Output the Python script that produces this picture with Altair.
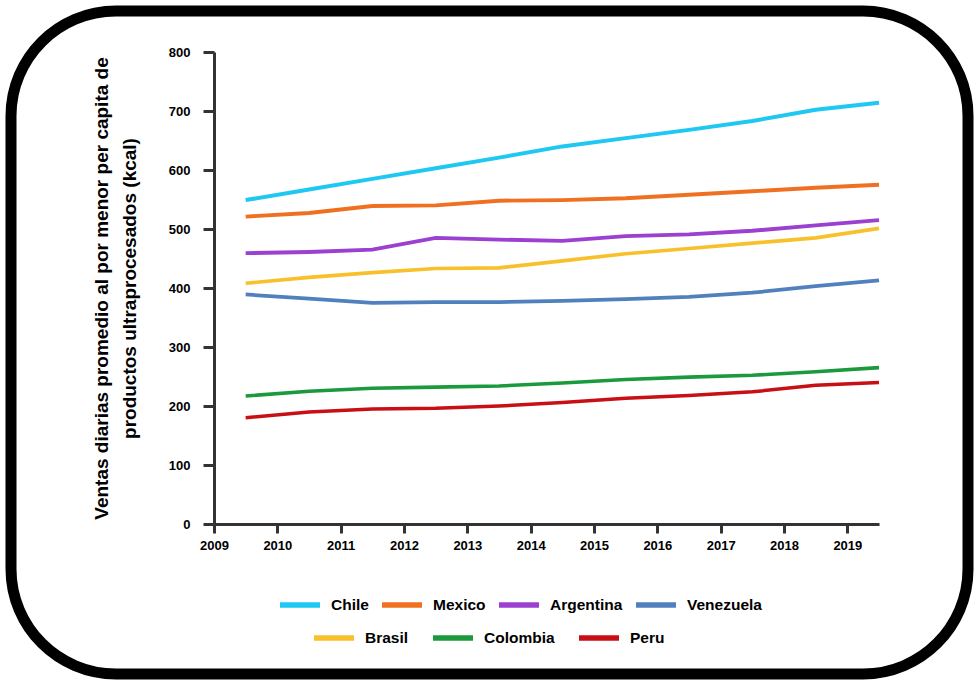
import altair as alt
import pandas as pd

years = list(range(2009, 2020))
chile = [549, 567, 585, 603, 621, 640, 654, 668, 683, 702, 714]
mexico = [521, 527, 539, 540, 548, 549, 552, 558, 564, 570, 575]
argentina = [459, 461, 465, 485, 482, 480, 488, 491, 497, 506, 515]
venezuela = [389, 382, 375, 376, 376, 378, 381, 385, 392, 403, 413]
brasil = [408, 418, 426, 433, 434, 446, 458, 467, 476, 485, 501]
colombia = [217, 225, 230, 232, 234, 239, 245, 249, 252, 258, 265]
peru = [180, 190, 195, 196, 200, 206, 213, 218, 224, 235, 240]

row1 = ["Chile", "Mexico", "Argentina", "Venezuela"]
colors1 = ["#1ec8f2", "#f07021", "#9b40d0", "#5080bd"]
row2 = ["Brasil", "Colombia", "Peru"]
colors2 = ["#f8c12c", "#1a9a3c", "#c80f14"]

series = {
    "Chile": chile, "Mexico": mexico, "Argentina": argentina,
    "Venezuela": venezuela, "Brasil": brasil, "Colombia": colombia, "Peru": peru,
}
rows = []
for name, vals in series.items():
    for y, v in zip(years, vals):
        rows.append({"country": name, "year": y, "value": v})
df = pd.DataFrame(rows)

FONT = "Liberation Sans"
W, H = 665, 472
PL, PT = 214, 52

x_enc = alt.X(
    "xpos:Q",
    scale=alt.Scale(domain=[2009, 2019.5], nice=False, zero=False),
    axis=alt.Axis(values=years, format="d", title=None, grid=False,
                  labelFontSize=13, labelFontWeight="bold", labelColor="black",
                  labelFont=FONT, labelPadding=6, tickSize=9, tickWidth=3,
                  tickColor="#333", domainColor="#333", domainWidth=3,
                  labelFlush=False),
)
y_enc = alt.Y(
    "value:Q",
    scale=alt.Scale(domain=[0, 800], nice=False),
    axis=alt.Axis(values=list(range(0, 801, 100)), grid=False,
                  title=["Ventas diarias promedio al por menor per capita de",
                         "productos ultraprocesados (kcal)"],
                  titleFont=FONT, titleFontSize=19, titleFontWeight="bold",
                  titleColor="black", titleLineHeight=28, titlePadding=29,
                  labelFontSize=13, labelFontWeight="bold", labelColor="black",
                  labelFont=FONT, labelPadding=13, tickSize=11, tickWidth=3,
                  tickColor="#333", domainColor="#333", domainWidth=3),
)

def legend(x, y, cols, pad):
    return alt.Legend(orient="none", legendX=x, legendY=y, direction="horizontal",
                      columns=cols, title=None, symbolType="stroke", symbolSize=1600,
                      symbolStrokeWidth=5.5, labelFont=FONT, labelFontSize=15.5,
                      labelFontWeight="bold", labelColor="black", labelOffset=8,
                      columnPadding=pad, padding=0, offset=0)

widths_domain = row1 + row2
widths_range = [4, 3.5, 3.5, 3.5, 5, 3.5, 3.5]

base = alt.Chart(df).transform_calculate(xpos="datum.year + 0.5")

layer_a = base.transform_filter(
    alt.FieldOneOfPredicate(field="country", oneOf=row1)
).mark_line().encode(
    x=x_enc, y=y_enc,
    color=alt.Color("country:N", scale=alt.Scale(domain=row1, range=colors1),
                    sort=row1, legend=legend(63, 530, 4, 2)),
    strokeWidth=alt.StrokeWidth("country:N", scale=alt.Scale(domain=widths_domain, range=widths_range), legend=None),
)
layer_b = base.transform_filter(
    alt.FieldOneOfPredicate(field="country", oneOf=row2)
).mark_line().encode(
    x=x_enc, y=y_enc,
    color=alt.Color("country:N", scale=alt.Scale(domain=row2, range=colors2),
                    sort=row2, legend=legend(97, 563, 3, 13)),
    strokeWidth=alt.StrokeWidth("country:N", scale=alt.Scale(domain=widths_domain, range=widths_range), legend=None),
)

frame = alt.Chart(alt.Data(values=[{"k": 1}])).mark_rect(
    fill="transparent", stroke="black", strokeWidth=11, cornerRadius=105
).encode(
    x=alt.value(11 - PL), x2=alt.value(968 - PL),
    y=alt.value(11 - PT), y2=alt.value(674 - PT),
)

chart = alt.layer(frame, layer_a, layer_b).resolve_scale(
    color="independent"
).resolve_legend(color="independent").properties(
    width=W, height=H,
    autosize=alt.AutoSizeParams(type="none"),
    padding={"left": PL, "top": PT, "right": 977 - PL - W, "bottom": 684 - PT - H},
    background="white",
).configure_view(stroke=None)

chart.save("out.html", embed_options={"renderer": "svg", "actions": False})
